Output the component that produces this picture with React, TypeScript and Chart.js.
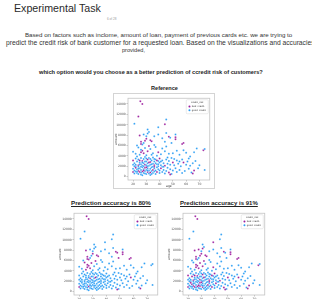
import React, { useEffect, useLayoutEffect, useRef } from "react";
import { Chart, registerables } from "chart.js";

Chart.register(...registerables);

// ---------- data ----------
const ageTicks = [20, 30, 40, 50, 60, 70];
const amountTicks = [0, 2000, 4000, 6000, 8000, 10000, 12000, 14000];
const ageRange = [16.2, 77.8];
const amountRange = [-650, 15100];
const riskNames = ["bad_credit", "good_credit"];
const legendTitle = "credit_risk";
const chartTitles = ["Reference", "Prediction accuracy is 80%", "Prediction accuracy is 91%"];

// rows: [age, amount, labels]  labels = reference / 80% prediction / 91% prediction (b = bad, g = good)
const highAmount: [number, number, string][] = [
  [25.5, 14500, "bbb"], [27, 14000, "bbb"], [24, 11600, "bgg"], [21, 10200, "ggg"],
  [45, 11000, "ggg"], [44, 10100, "bgg"], [39, 9500, "ggb"], [31, 9100, "ggg"],
];
const upperAmount: [number, number, string][] = [
  [28, 8100, "ggb"], [30, 7800, "ggg"], [31, 8300, "ggb"], [25, 7900, "bbb"], [30, 7300, "bbb"],
  [36, 7800, "ggg"], [39, 8100, "ggg"], [34, 6800, "bbb"], [28, 6500, "ggg"], [27, 6200, "gbg"],
  [45, 8400, "ggg"], [52, 8100, "ggg"], [52, 7600, "bbb"], [52, 7200, "bbb"], [58, 6500, "bbb"],
  [44, 6700, "ggg"], [49, 6500, "gbg"], [47, 7700, "bbb"], [33, 7000, "bbb"], [29, 6900, "bgb"],
  [26, 6300, "bbb"], [42, 7400, "ggg"], [57, 6300, "bbb"], [36, 6100, "ggg"], [23, 6000, "ggg"],
  [32, 8600, "ggg"], [26, 6700, "bbb"], [48, 7500, "gbg"],
];
const midAmount: [number, number, string][] = [
  [20, 4800, "ggg"], [27, 5000, "bbb"], [26, 4700, "bbb"], [31, 4900, "bgb"], [39, 4700, "bgb"],
  [53, 5000, "ggg"], [58, 5100, "ggg"], [73, 5100, "bgb"], [63, 3900, "ggg"], [24, 5600, "gbg"],
  [29, 5500, "gbb"], [33, 5300, "ggg"], [35, 4500, "ggg"], [37, 5700, "ggg"], [41, 4300, "ggg"],
  [44, 4900, "ggg"], [47, 4400, "ggg"], [22, 4400, "ggg"], [25, 4200, "gbg"], [28, 4500, "bbb"],
  [30, 4100, "ggg"], [34, 4200, "ggg"], [38, 4000, "ggg"], [42, 5400, "ggg"], [50, 4500, "ggg"],
  [55, 4200, "ggg"], [60, 4600, "ggg"], [66, 4700, "ggg"], [68, 5400, "ggg"], [26, 5200, "gbb"],
  [32, 5900, "bbb"], [45, 5800, "ggg"], [74, 5300, "ggg"], [23, 3900, "ggg"],
];
const lowerAmount: [number, number, string][] = [
  [20, 3100, "bgb"], [21, 2600, "ggg"], [22, 3500, "ggg"], [23, 2900, "ggb"], [24, 3300, "ggg"],
  [24, 2200, "bgb"], [25, 2700, "ggg"], [26, 3600, "ggg"], [26, 2400, "ggg"], [27, 3000, "bgb"],
  [27, 2100, "ggg"], [28, 3400, "ggg"], [28, 2600, "gbg"], [29, 2300, "bgb"], [29, 3800, "ggg"],
  [30, 2900, "ggg"], [30, 2200, "ggg"], [31, 3300, "bgb"], [31, 2600, "ggg"], [32, 2100, "ggg"],
  [32, 3600, "ggg"], [33, 2800, "bgg"], [33, 2300, "ggg"], [34, 3100, "ggg"], [35, 2500, "ggg"],
  [35, 3700, "ggg"], [36, 2200, "bgb"], [36, 2900, "ggg"], [37, 3300, "ggg"], [38, 2400, "ggg"],
  [39, 3000, "ggg"], [40, 2700, "ggg"], [40, 3500, "bgb"], [41, 2200, "ggg"], [42, 3100, "ggg"],
  [43, 2600, "ggg"], [44, 2100, "bgb"], [45, 3300, "ggg"], [46, 2500, "ggg"], [47, 3000, "ggg"],
  [48, 2300, "ggg"], [49, 3600, "ggg"], [50, 2700, "bgb"], [51, 2200, "ggg"], [53, 3100, "ggg"],
  [54, 2500, "ggg"], [56, 2000, "ggg"], [57, 3300, "ggg"], [58, 2700, "bbb"], [60, 2300, "ggg"],
  [61, 2900, "ggg"], [63, 2100, "ggg"], [65, 2600, "ggg"], [67, 3000, "ggg"], [70, 2200, "ggg"],
  [22, 2000, "ggg"], [39, 2000, "ggg"], [22, 2300, "ggg"], [25, 3100, "bgb"], [27, 2700, "ggg"],
  [29, 2900, "ggg"], [30, 3500, "ggg"], [31, 2000, "ggg"], [32, 2700, "bbb"], [33, 3400, "ggg"],
  [34, 2400, "ggg"], [36, 3400, "ggg"], [37, 2600, "ggg"], [38, 3100, "bgb"], [39, 2400, "ggg"],
  [41, 2900, "ggg"], [46, 3700, "ggg"], [51, 3400, "ggg"], [55, 2900, "ggg"], [62, 3500, "ggg"],
  [20, 2300, "ggg"], [25, 2400, "ggg"], [28, 2000, "ggg"], [21, 2000, "ggg"],
];
const lowAmount: [number, number, string][] = [
  [20, 1500, "ggg"], [20, 900, "bbb"], [21, 1200, "ggg"], [21, 600, "ggg"], [22, 1700, "bgb"],
  [22, 1000, "ggg"], [23, 700, "ggg"], [23, 1400, "ggb"], [24, 1100, "bgb"], [24, 500, "ggg"],
  [25, 1600, "ggg"], [25, 900, "bgb"], [26, 1300, "ggg"], [26, 400, "ggg"], [27, 1800, "ggg"],
  [27, 1000, "bbb"], [28, 700, "ggg"], [28, 1400, "ggg"], [29, 1100, "ggb"], [29, 1700, "bgb"],
  [30, 500, "ggg"], [30, 1300, "ggg"], [31, 900, "bgb"], [31, 1600, "ggg"], [32, 1200, "ggg"],
  [32, 600, "ggg"], [33, 1500, "ggg"], [33, 800, "bgg"], [34, 1100, "ggg"], [34, 1800, "ggg"],
  [35, 700, "ggg"], [35, 1300, "bgb"], [36, 1000, "ggg"], [36, 1600, "ggg"], [37, 500, "ggg"],
  [37, 1200, "ggg"], [38, 1800, "ggg"], [38, 900, "bgb"], [39, 1400, "ggg"], [40, 700, "ggg"],
  [40, 1200, "ggg"], [41, 1600, "bgb"], [42, 900, "ggg"], [43, 1300, "ggg"], [44, 600, "ggg"],
  [45, 1100, "ggg"], [46, 1700, "ggg"], [47, 800, "bgb"], [48, 1400, "ggg"], [49, 500, "ggg"],
  [50, 1200, "ggg"], [52, 1600, "ggg"], [53, 900, "ggg"], [55, 1300, "ggg"], [57, 700, "ggg"],
  [59, 1100, "ggg"], [62, 1500, "ggg"], [64, 800, "ggg"], [66, 1200, "bgb"], [69, 1600, "ggg"],
  [74, 1300, "ggg"], [27, 250, "ggg"], [33, 300, "ggg"], [48, 400, "bbb"], [65, 600, "bbb"],
  [24, 1900, "ggg"], [36, 1900, "bgb"], [26, 1900, "ggg"], [28, 1200, "bgb"], [35, 1900, "ggg"],
  [42, 1900, "ggg"], [23, 1000, "ggg"], [24, 1500, "ggg"], [26, 800, "ggg"], [30, 1800, "bgb"],
  [34, 500, "ggg"], [29, 600, "ggg"], [31, 1200, "ggg"], [43, 1900, "ggg"],
];

const customers = [...highAmount, ...upperAmount, ...midAmount, ...lowerAmount, ...lowAmount];

const PURPLE = "#9b1c9d";
const BLUE = "#2a9df4";
const riskColors = [PURPLE, BLUE];
const CHART_FONT = '"DejaVu Sans", sans-serif';
const PAGE_FONT = '"Liberation Sans", Arial, sans-serif';

// ---------- chart ----------
type Geo = {
  left: number; top: number; width: number; height: number;
  padTop: number; padRight: number; yAxisW: number; xAxisH: number;
};

const framePlugin = {
  id: "frameAndLegend",
  afterDraw(chart: any) {
    const { ctx, chartArea } = chart;
    ctx.save();
    ctx.strokeStyle = "#c4c4c4";
    ctx.lineWidth = 0.8;
    ctx.strokeRect(chartArea.left, chartArea.top, chartArea.right - chartArea.left, chartArea.bottom - chartArea.top);
    const w = 22, h = 14;
    const x0 = chartArea.right - 1.5 - w;
    const y0 = chartArea.top + 1.5;
    ctx.fillStyle = "rgba(255,255,255,0.85)";
    ctx.strokeStyle = "#d6d6d6";
    ctx.lineWidth = 0.5;
    ctx.beginPath();
    ctx.roundRect(x0, y0, w, h, 1);
    ctx.fill();
    ctx.stroke();
    ctx.font = `2.4px ${CHART_FONT}`;
    ctx.fillStyle = "#333";
    ctx.textBaseline = "middle";
    ctx.textAlign = "center";
    ctx.fillText(legendTitle, x0 + w / 2, y0 + 2.8);
    ctx.textAlign = "left";
    riskNames.forEach((name, i) => {
      const y = y0 + 6.8 + i * 3.8;
      ctx.fillStyle = riskColors[i];
      ctx.beginPath();
      ctx.arc(x0 + 3.2, y, 1.0, 0, Math.PI * 2);
      ctx.fill();
      ctx.fillStyle = "#333";
      ctx.fillText(name, x0 + 5.6, y);
    });
    ctx.restore();
  },
};

function RiskScatter({ labelIndex, geo }: { labelIndex: number; geo: Geo }) {
  const ref = useRef<HTMLCanvasElement>(null);
  useEffect(() => {
    if (!ref.current) return;
    const tickFont = { size: 3, family: CHART_FONT };
    const axisCommon = {
      type: "linear" as const,
      grid: { display: true, drawOnChartArea: false, drawTicks: true, tickLength: 1.5, color: "#888", lineWidth: 0.5 },
      border: { display: false },
    };
    const chart = new Chart(ref.current, {
      type: "scatter",
      data: {
        datasets: [
          {
            data: customers.map((c) => ({ x: c[0], y: c[1] })),
            pointBackgroundColor: customers.map((c) => (c[2][labelIndex] === "b" ? PURPLE : BLUE)),
            pointBorderColor: "#ffffff",
            pointBorderWidth: 0.25,
            pointRadius: 1.0,
          },
        ],
      },
      options: {
        animation: false,
        responsive: false,
        maintainAspectRatio: false,
        events: [],
        layout: { padding: { top: geo.padTop, right: geo.padRight, left: 0, bottom: 0 } },
        plugins: { legend: { display: false }, tooltip: { enabled: false } },
        scales: {
          x: {
            ...axisCommon,
            min: ageRange[0],
            max: ageRange[1],
            afterBuildTicks: (s: any) => { s.ticks = ageTicks.map((v) => ({ value: v })); },
            afterFit: (s: any) => { s.height = geo.xAxisH; },
            ticks: { font: tickFont, color: "#555", padding: 0.5, maxRotation: 0, autoSkip: false },
            title: { display: true, text: "age", font: tickFont, color: "#333", padding: { top: 0.5, bottom: 0 } },
          },
          y: {
            ...axisCommon,
            min: amountRange[0],
            max: amountRange[1],
            afterBuildTicks: (s: any) => { s.ticks = amountTicks.map((v) => ({ value: v })); },
            afterFit: (s: any) => { s.width = geo.yAxisW; },
            ticks: { font: tickFont, color: "#555", padding: 0.8, autoSkip: false, callback: (v: any) => String(v) },
            title: { display: true, text: "amount", font: tickFont, color: "#333", padding: { top: 0, bottom: 0.5 } },
          },
        },
      },
      plugins: [framePlugin],
    });
    return () => chart.destroy();
  }, [labelIndex]);
  return (
    <canvas
      ref={ref}
      width={geo.width}
      height={geo.height}
      style={{ position: "absolute", left: geo.left, top: geo.top, width: geo.width, height: geo.height }}
    />
  );
}

// ---------- text ----------
function FitText(props: {
  text: string; left: number; cy: number; width?: number; fs?: number;
  weight?: number; color?: string; underline?: boolean;
}) {
  const ref = useRef<HTMLSpanElement>(null);
  useLayoutEffect(() => {
    const el = ref.current;
    if (!el) return;
    let fs = props.fs || 20;
    if (props.width) {
      el.style.fontSize = "20px";
      const w = el.getBoundingClientRect().width;
      fs = (20 * props.width) / w;
    }
    el.style.fontSize = fs + "px";
    el.style.top = props.cy - 0.546 * fs + "px";
  }, []);
  return (
    <span
      ref={ref}
      style={{
        position: "absolute",
        left: props.left,
        whiteSpace: "nowrap",
        lineHeight: 1,
        fontFamily: PAGE_FONT,
        fontWeight: props.weight || 400,
        color: props.color || "#222",
        textDecoration: props.underline ? "underline" : "none",
      }}
    >
      {props.text}
    </span>
  );
}

export default function App() {
  useEffect(() => {
    document.body.style.margin = "0";
    document.documentElement.style.overflow = "hidden";
    document.body.style.overflow = "hidden";
  }, []);
  return (
    <div style={{ position: "relative", width: 312, height: 299, overflow: "hidden", background: "#fff" }}>
      <FitText text="Experimental Task" left={14} cy={9} width={87} color="#2a2a2a" />
      <FitText text="6 of 28" left={107} cy={19.3} width={9.5} color="#9a9a9a" />
      <FitText
        text="Based on factors such as inclome, amount of loan, payment of previous cards etc. we are trying to"
        left={25} cy={35} width={268} color="#333"
      />
      <FitText
        text="predict the credit risk of bank customer for a requested loan. Based on the visualizations and accuracies"
        left={6} cy={43.3} width={309} color="#333"
      />
      <FitText text="provided," left={122} cy={51.2} width={23} color="#333" />
      <FitText
        text="which option would you choose as a better prediction of ccredit risk of customers?"
        left={39} cy={73.3} width={224} weight={700} color="#222"
      />
      <FitText text={chartTitles[0]} left={151} cy={89} width={27} weight={700} color="#222" />
      <FitText text={chartTitles[1]} left={71} cy={203.3} width={80} weight={700} color="#222" underline />
      <FitText text={chartTitles[2]} left={180} cy={203.3} width={78} weight={700} color="#222" underline />

      <div
        style={{
          position: "absolute", left: 113, top: 93, width: 102, height: 96,
          border: "1px solid #d4d4d4", boxSizing: "border-box",
        }}
      />
      <RiskScatter
        labelIndex={0}
        geo={{ left: 114, top: 94, width: 100, height: 94, padTop: 1, padRight: 2, yAxisW: 14, xAxisH: 8 }}
      />
      <RiskScatter
        labelIndex={1}
        geo={{ left: 58, top: 209, width: 104, height: 95, padTop: 2, padRight: 3, yAxisW: 16, xAxisH: 9 }}
      />
      <RiskScatter
        labelIndex={2}
        geo={{ left: 167, top: 209, width: 102, height: 95, padTop: 2, padRight: 3, yAxisW: 16, xAxisH: 9 }}
      />
    </div>
  );
}
